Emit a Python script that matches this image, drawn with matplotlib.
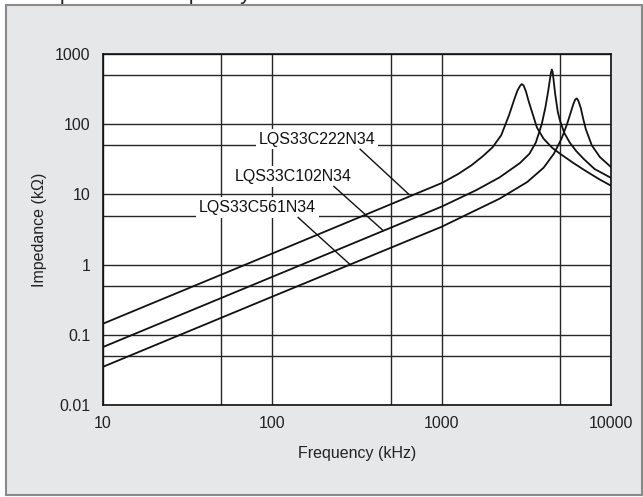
import matplotlib
matplotlib.use("Agg")
import matplotlib.pyplot as plt
from matplotlib.patches import Rectangle

plt.rcParams['font.family'] = ['Liberation Sans', 'DejaVu Sans']

# data (frequency kHz, impedance kOhm)
freq_222 = [10, 100, 1000, 1250, 1500, 1750, 2000, 2250, 2500, 2700, 2800, 2900, 2970,
            3050, 3150, 3250, 3400, 3650, 4000, 4500, 5000, 6000, 7000, 8500, 10000]
z_222 = [0.144, 1.44, 14.5, 19.5, 26, 35, 47, 70, 135, 235, 300, 350, 373,
         355, 290, 220, 155, 90, 62, 46, 38, 28, 22, 16.5, 13.3]

freq_102 = [10, 100, 1000, 1600, 2200, 2900, 3300, 3600, 3900, 4100, 4250, 4350, 4420,
            4470, 4520, 4580, 4680, 4850, 5000, 5300, 5700, 6200, 6900, 8000, 10000]
z_102 = [0.067, 0.67, 6.7, 11.5, 17.5, 28, 38, 55, 100, 175, 290, 420, 540,
         600, 560, 430, 270, 150, 112, 75, 55, 42, 32, 23, 17.2]

freq_561 = [10, 100, 1000, 2200, 3200, 4000, 4600, 5100, 5500, 5800, 6000, 6150, 6280,
            6420, 6630, 6850, 7100, 7700, 8600, 10000]
z_561 = [0.035, 0.35, 3.46, 8.7, 15, 24, 38, 62, 100, 150, 195, 225, 233,
         215, 170, 120, 85, 50, 34, 24.5]

x_ticks = [10, 100, 1000, 10000]
x_labels = ['10', '100', '1000', '10000']
y_ticks = [0.01, 0.1, 1, 10, 100, 1000]
y_labels = ['0.01', '0.1', '1', '10', '100', '1000']
x_minor = [50, 500, 5000]
y_minor = [0.05, 0.5, 5, 50, 500]

W, H = 643, 497
fig = plt.figure(figsize=(W / 100, H / 100), dpi=100)
fig.patch.set_facecolor('white')

# grey panel with frame
fig.patches.append(Rectangle((6 / W, 1 - 495 / H), 636 / W, 490 / H,
                             transform=fig.transFigure, facecolor='#e6e7e9',
                             edgecolor='#8a8a8a', linewidth=1.5, zorder=-5))

# title, cut off at the top of the image
fig.text(36 / W, 1 + 1.5 / H, 'Impedance-Frequency Characteristics',
         fontsize=15.5, color='#222222', va='baseline')

ax = fig.add_axes([103 / W, 1 - 405 / H, 508 / W, 351 / H])
ax.set_zorder(2)
ax.set_facecolor('white')
ax.set_xscale('log')
ax.set_yscale('log')
ax.set_xlim(10, 10000)
ax.set_ylim(0.01, 1000)

ax.set_xticks(x_ticks, x_labels)
ax.set_yticks(y_ticks, y_labels)
ax.set_xticks(x_minor, minor=True)
ax.set_yticks(y_minor, minor=True)
ax.set_xticklabels([], minor=True)
ax.set_yticklabels([], minor=True)
ax.tick_params(which='both', length=0)
ax.tick_params(axis='x', pad=8, labelsize=11.5, colors='#222222')
ax.tick_params(axis='y', pad=9, labelsize=11.5, colors='#222222')
ax.grid(True, which='both', color='#262626', linewidth=1.0)
ax.set_axisbelow(True)
for s in ax.spines.values():
    s.set_color('#111111')
    s.set_linewidth(1.2)

for f, z in [(freq_222, z_222), (freq_102, z_102), (freq_561, z_561)]:
    ax.plot(f, z, color='#111111', linewidth=1.3, zorder=3)

# part labels with leader lines
labels = [
    ('LQS33C222N34', (184, 61), (330, 44), (641, 10)),
    ('LQS33C102N34', (132, 18.1), (231, 13), (451, 3.06)),
    ('LQS33C561N34', (82, 6.5), (142, 4.69), (288, 1.0)),
]
for txt, tpos, p1, p2 in labels:
    ax.text(tpos[0], tpos[1], txt, ha='center', va='center', fontsize=11.5,
            color='#111111', zorder=4,
            bbox=dict(facecolor='white', edgecolor='none', pad=2))
    ax.plot([p1[0], p2[0]], [p1[1], p2[1]], color='#111111', linewidth=1.0, zorder=4)

ax.set_xlabel('Frequency (kHz)', fontsize=11.5, color='#222222', labelpad=11)
ax.set_ylabel('Impedance (k\u03a9)', fontsize=11.5, color='#222222', labelpad=6)

fig.savefig('out.png', dpi=100)
